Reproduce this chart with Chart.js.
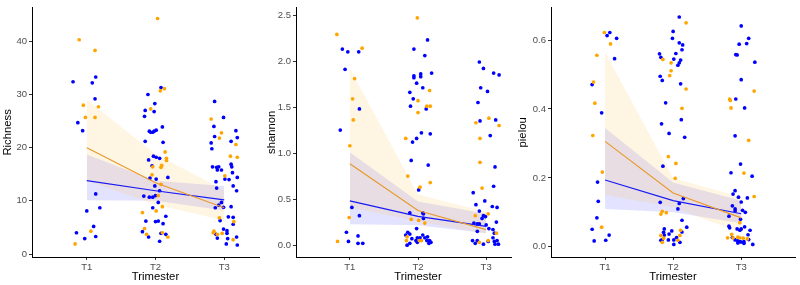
<!DOCTYPE html>
<html>
<head>
<meta charset="utf-8">
<script src="https://cdn.jsdelivr.net/npm/chart.js@4/dist/chart.umd.min.js"></script>
<style>
  body { margin: 0; background: #fff; width: 800px; height: 285px; position: relative; overflow: hidden; }
  .panel { position: absolute; top: 0; height: 285px; background: #fff; }
</style>
</head>
<body>
<!-- panels overlap: each later panel covers the right edge of the previous one -->
<div class="panel" style="left:0px;width:283px"><canvas id="richness"></canvas></div>
<div class="panel" style="left:260px;width:284px"><canvas id="shannon"></canvas></div>
<div class="panel" style="left:512px;width:288px"><canvas id="pielou"></canvas></div>
<script>
// x categories (jittered points are read as numeric positions around 1, 2, 3)
const trimesters = [1, 2, 3];
const tickLabels = ['T1', 'T2', 'T3'];

// --- Richness ---
const richnessOrange = [
  [0.89,40.3],[1.12,38.3],[0.95,28.0],[1.17,27.7],[0.98,25.7],[1.12,25.7],[1.06,4.3],[0.83,1.9],
  [2.03,44.3],[2.07,30.7],[2.13,31.1],[1.93,27.3],[2.14,19.2],[2.16,18.0],[2.16,17.6],[2.09,16.7],
  [2.08,16.3],[1.96,16.4],[1.95,14.9],[2.08,13.1],[2.04,11.0],[2.10,8.9],[2.01,8.1],[1.81,7.8],
  [1.84,4.8],[1.87,3.7],[2.10,4.0],[2.18,3.2],
  [2.81,25.4],[2.96,22.8],[2.93,21.8],[3.17,20.6],[3.09,18.4],[3.19,18.2],[3.01,14.7],[2.93,6.8],
  [3.14,6.1],[2.85,4.3],[2.84,4.0],[2.90,3.7],[2.97,3.9],[3.13,2.7]
];
const richnessBlue = [
  [0.80,32.4],[1.08,32.2],[1.13,33.3],[1.12,29.2],[0.87,24.7],[0.94,23.2],[1.13,11.3],[1.00,8.1],
  [1.19,8.7],[1.10,5.2],[0.85,4.0],[0.97,2.9],[1.13,3.3],
  [1.89,30.0],[2.08,31.3],[1.99,28.3],[1.85,27.0],[1.98,26.8],[1.84,25.9],[2.10,23.9],[1.91,23.1],
  [1.93,22.9],[1.96,22.9],[1.98,23.1],[2.01,23.3],[1.85,21.2],[2.11,21.0],[1.90,17.7],[1.97,18.4],
  [2.01,18.2],[2.06,18.0],[1.95,16.6],[1.92,14.3],[2.01,14.1],[2.18,14.4],[1.99,12.8],[2.06,11.9],
  [1.83,10.9],[1.91,10.7],[1.96,10.7],[2.00,11.0],[2.04,9.7],[1.96,8.7],[2.15,7.1],[2.00,6.1],
  [2.04,6.2],[1.86,6.2],[2.11,5.7],[1.81,4.2],[1.90,3.2],[2.08,3.9],[2.15,3.7],[2.06,2.4],
  [2.86,28.7],[2.99,25.7],[2.85,24.0],[3.17,23.2],[2.86,22.1],[3.19,21.9],[2.81,20.9],[3.10,21.2],
  [2.82,19.8],[3.10,16.9],[3.11,16.4],[2.83,16.4],[2.89,16.3],[2.92,16.4],[2.90,15.8],[2.96,15.8],
  [3.12,15.3],[3.19,14.4],[3.01,14.1],[3.07,14.0],[2.88,13.6],[3.13,12.8],[2.89,12.4],[3.18,11.9],
  [2.96,9.7],[2.92,9.2],[2.87,8.7],[2.99,8.8],[3.10,8.9],[3.06,7.0],[3.13,6.9],[2.94,6.3],
  [3.13,5.6],[2.99,4.7],[3.04,4.4],[3.04,3.9],[2.88,3.7],[2.90,3.0],[3.05,2.9],[3.18,3.2],
  [3.03,1.9],[3.19,1.7]
];
const richnessOrangeFit = [20.0, 13.4, 8.7];
const richnessOrangeLow = [13.8, 9.3, 6.3];
const richnessOrangeHigh = [29.0, 18.8, 12.0];
const richnessBlueFit = [13.8, 11.9, 10.2];
const richnessBlueLow = [10.1, 10.0, 8.2];
const richnessBlueHigh = [18.7, 13.8, 12.8];
const richnessTicks = [0, 10, 20, 30, 40];

// --- shannon ---
const shannonOrange = [
  [0.81,2.29],[1.18,2.14],[1.07,1.81],[1.04,1.59],[1.05,1.36],[1.00,1.08],[0.99,0.30],[0.82,0.04],
  [1.99,2.47],[2.17,1.68],[2.13,1.51],[2.18,1.51],[2.00,1.57],[2.00,1.44],[1.82,1.16],[1.85,0.75],
  [2.03,0.63],[2.18,0.68],[1.90,0.28],[2.01,0.27],[2.10,0.24],[1.84,0.09],[1.83,0.05],[2.02,0.05],
  [2.05,0.05],
  [3.04,1.38],[2.85,1.33],[3.19,1.30],[2.91,1.16],[2.91,0.90],[2.94,0.62],[3.03,0.34],[2.84,0.32],
  [3.15,0.13],[2.90,0.03],[3.03,0.05]
];
const shannonBlue = [
  [0.89,2.13],[0.97,2.10],[1.13,2.10],[0.93,1.91],[1.14,1.48],[0.86,1.25],[1.03,0.41],[1.14,0.32],
  [0.95,0.14],[1.12,0.10],[0.98,0.04],[1.12,0.02],[1.19,0.02],
  [2.14,2.23],[1.94,2.13],[2.10,2.06],[2.20,1.87],[1.94,1.84],[1.94,1.82],[2.04,1.86],[2.04,1.83],
  [1.98,1.76],[2.07,1.71],[1.88,1.66],[1.93,1.59],[1.89,1.51],[2.12,1.48],[2.05,1.22],[2.18,1.21],
  [1.98,1.16],[1.92,1.12],[1.90,0.92],[2.15,0.87],[2.01,0.60],[1.88,0.35],[2.07,0.35],[2.08,0.34],
  [2.08,0.29],[1.98,0.18],[1.85,0.14],[1.82,0.11],[1.88,0.12],[1.91,0.07],[1.99,0.08],[2.03,0.08],
  [2.07,0.11],[2.10,0.08],[2.14,0.09],[2.17,0.05],[2.13,0.05],[2.19,0.03],[2.16,0.02],[1.99,0.03],
  [1.88,0.02],[1.84,0.00],[1.97,0.05],
  [2.90,1.99],[2.96,1.92],[3.11,1.87],[3.19,1.85],[2.92,1.71],[3.02,1.67],[2.88,1.55],[2.91,1.35],
  [3.14,1.36],[3.06,1.19],[3.13,0.85],[3.11,0.64],[2.81,0.57],[2.98,0.48],[2.85,0.44],[3.09,0.42],
  [3.16,0.41],[2.90,0.37],[2.96,0.32],[2.94,0.29],[2.99,0.31],[3.15,0.25],[2.82,0.24],[2.87,0.23],
  [2.90,0.23],[3.00,0.22],[3.04,0.18],[2.87,0.15],[3.10,0.17],[3.12,0.13],[2.80,0.05],[2.84,0.02],
  [2.87,0.05],[2.96,0.01],[3.10,0.08],[3.12,0.04],[3.16,0.05],[3.18,0.01],[3.13,0.01],[3.03,0.04]
];
const shannonOrangeFit = [0.885, 0.376, 0.169];
const shannonOrangeLow = [0.41, 0.26, 0.12];
const shannonOrangeHigh = [1.92, 0.55, 0.36];
const shannonBlueFit = [0.48, 0.312, 0.204];
const shannonBlueLow = [0.226, 0.215, 0.13];
const shannonBlueHigh = [1.01, 0.473, 0.34];
const shannonTicks = [0, 0.5, 1.0, 1.5, 2.0, 2.5];

// --- pielou ---
const pielouOrange = [
  [0.99,0.622],[1.08,0.589],[0.88,0.556],[0.83,0.478],[0.85,0.417],[0.82,0.323],[0.96,0.217],[0.95,0.057],
  [2.19,0.650],[1.85,0.544],[1.97,0.534],[1.97,0.511],[1.95,0.497],[2.19,0.458],[2.13,0.402],[1.93,0.262],
  [2.04,0.242],[2.03,0.199],[1.84,0.103],[1.90,0.099],[1.82,0.095],[1.82,0.033],[1.86,0.025],[2.11,0.048],
  [2.10,0.033],[2.07,0.019],[1.84,0.013],
  [3.19,0.452],[2.83,0.429],[2.84,0.425],[2.85,0.403],[3.11,0.309],[3.04,0.214],[3.19,0.146],[2.98,0.070],
  [2.86,0.036],[2.80,0.026],[2.88,0.026],[2.95,0.028],[2.98,0.026],[3.03,0.025],[3.09,0.023]
];
const pielouBlue = [
  [1.03,0.613],[1.07,0.622],[1.17,0.605],[1.14,0.546],[0.81,0.471],[0.95,0.389],[0.89,0.188],[0.90,0.132],
  [0.88,0.084],[0.81,0.051],[0.84,0.017],[1.01,0.019],[1.06,0.034],
  [2.09,0.667],[2.00,0.625],[1.99,0.605],[2.09,0.592],[2.14,0.586],[2.13,0.572],[1.80,0.560],[1.82,0.550],
  [2.04,0.561],[2.01,0.545],[2.11,0.542],[2.09,0.534],[2.07,0.527],[1.81,0.495],[1.84,0.483],[2.11,0.473],
  [1.89,0.418],[2.12,0.369],[1.83,0.357],[1.94,0.329],[2.17,0.318],[1.85,0.234],[1.81,0.129],[2.09,0.126],
  [2.07,0.110],[2.15,0.140],[2.13,0.077],[2.20,0.057],[1.87,0.052],[1.98,0.046],[2.13,0.043],[1.86,0.042],
  [1.94,0.037],[1.87,0.034],[2.05,0.027],[1.82,0.019],[1.93,0.020],[2.01,0.020],[2.01,0.007],[2.10,0.013],
  [1.84,0.021],
  [3.00,0.641],[3.11,0.605],[2.97,0.588],[3.08,0.590],[2.92,0.558],[2.94,0.557],[3.20,0.536],[3.00,0.485],
  [2.92,0.429],[3.05,0.403],[2.91,0.322],[2.99,0.240],[2.85,0.215],[3.16,0.205],[2.91,0.163],[2.88,0.153],
  [2.96,0.144],[3.09,0.142],[3.00,0.130],[2.87,0.119],[2.91,0.110],[2.91,0.104],[3.02,0.106],[3.06,0.100],
  [2.82,0.089],[2.99,0.080],[2.82,0.060],[2.83,0.055],[3.05,0.058],[2.94,0.052],[2.98,0.048],[3.00,0.052],
  [3.13,0.048],[3.10,0.035],[2.87,0.027],[3.11,0.021],[2.91,0.020],[2.95,0.017],[2.98,0.015],[3.00,0.014],
  [3.04,0.015],[3.04,0.010],[3.17,0.007],[2.95,0.011]
];
const pielouOrangeFit = [0.306, 0.156, 0.084];
const pielouOrangeLow = [0.15, 0.115, 0.04];
const pielouOrangeHigh = [0.565, 0.20, 0.144];
const pielouBlueFit = [0.194, 0.134, 0.096];
const pielouBlueLow = [0.11, 0.10, 0.068];
const pielouBlueHigh = [0.345, 0.187, 0.134];
const pielouTicks = [0, 0.2, 0.4, 0.6];

const ORANGE = '#FFA500';
const BLUE = '#0000FF';
const FONT = 'Liberation Sans, Arial, sans-serif';

function line(ys) {
  return trimesters.map((x, i) => ({ x: x, y: ys[i] }));
}

function buildDatasets(p) {
  return [
    // ribbons (upper filled down to lower)
    { type: 'line', data: line(p.oHigh), fill: '+1', backgroundColor: 'rgba(255,165,0,0.11)', borderWidth: 0, pointRadius: 0, order: 3 },
    { type: 'line', data: line(p.oLow), fill: false, borderWidth: 0, pointRadius: 0, order: 3 },
    { type: 'line', data: line(p.bHigh), fill: '+1', backgroundColor: 'rgba(0,0,255,0.11)', borderWidth: 0, pointRadius: 0, order: 3 },
    { type: 'line', data: line(p.bLow), fill: false, borderWidth: 0, pointRadius: 0, order: 3 },
    // jittered points
    { type: 'scatter', data: p.orange.map(d => ({ x: d[0], y: d[1] })), backgroundColor: ORANGE, borderWidth: 0, pointRadius: 1.85, order: 2 },
    { type: 'scatter', data: p.blue.map(d => ({ x: d[0], y: d[1] })), backgroundColor: BLUE, borderWidth: 0, pointRadius: 1.85, order: 2 },
    // fitted lines
    { type: 'line', data: line(p.oFit), borderColor: '#E89A2C', borderWidth: 1.2, pointRadius: 0, fill: false, order: 1 },
    { type: 'line', data: line(p.bFit), borderColor: '#1A1AF5', borderWidth: 1.2, pointRadius: 0, fill: false, order: 1 }
  ];
}

function makeChart(id, p) {
  new Chart(document.getElementById(id), {
    type: 'scatter',
    data: { datasets: buildDatasets(p) },
    options: {
      animation: false,
      responsive: true,
      maintainAspectRatio: false,
      layout: { padding: { top: 5, right: p.padRight, left: 0, bottom: 0 } },
      plugins: { legend: { display: false }, tooltip: { enabled: false } },
      scales: {
        x: {
          type: 'linear', min: p.xMin, max: p.xMax,
          afterBuildTicks: s => { s.ticks = trimesters.map(v => ({ value: v })); },
          afterFit: s => { s.height = 28; },
          ticks: { callback: v => tickLabels[v - 1], color: '#4D4D4D', font: { family: FONT, size: 9.5 }, padding: 2, maxRotation: 0 },
          grid: { drawOnChartArea: false, drawTicks: true, tickLength: 3, color: '#333' },
          border: { color: '#000', width: 1 },
          title: { display: true, text: 'Trimester', color: '#000', font: { family: FONT, size: 11.3 }, padding: { top: 0, bottom: 1.5 } }
        },
        y: {
          type: 'linear', min: p.yMin, max: p.yMax,
          afterBuildTicks: s => { s.ticks = p.ticks.map(v => ({ value: v })); },
          afterFit: s => { s.width = p.yWidth; },
          ticks: { callback: v => p.fmt(v), color: '#4D4D4D', font: { family: FONT, size: 9.5 }, padding: 2 },
          grid: { drawOnChartArea: false, drawTicks: true, tickLength: 3, color: '#333' },
          border: { color: '#000', width: 1 },
          title: { display: true, text: p.title, color: '#000', font: { family: FONT, size: 11.3 }, padding: { top: p.titlePad, bottom: 0 } }
        }
      }
    }
  });
}

makeChart('richness', {
  title: 'Richness', orange: richnessOrange, blue: richnessBlue,
  oFit: richnessOrangeFit, oLow: richnessOrangeLow, oHigh: richnessOrangeHigh,
  bFit: richnessBlueFit, bLow: richnessBlueLow, bHigh: richnessBlueHigh,
  ticks: richnessTicks, fmt: v => String(v),
  xMin: 0.203, xMax: 3.797, yMin: -0.56, yMax: 46.33, yWidth: 32, padRight: 3, titlePad: 1.4
});
makeChart('shannon', {
  title: 'shannon', orange: shannonOrange, blue: shannonBlue,
  oFit: shannonOrangeFit, oLow: shannonOrangeLow, oHigh: shannonOrangeHigh,
  bFit: shannonBlueFit, bLow: shannonBlueLow, bHigh: shannonBlueHigh,
  ticks: shannonTicks, fmt: v => v.toFixed(1),
  xMin: 0.21, xMax: 3.79, yMin: -0.129, yMax: 2.58, yWidth: 36, padRight: 3.4, titlePad: 5.4
});
makeChart('pielou', {
  title: 'pielou', orange: pielouOrange, blue: pielouBlue,
  oFit: pielouOrangeFit, oLow: pielouOrangeLow, oHigh: pielouOrangeHigh,
  bFit: pielouBlueFit, bLow: pielouBlueLow, bHigh: pielouBlueHigh,
  ticks: pielouTicks, fmt: v => v.toFixed(1),
  xMin: 0.206, xMax: 3.79, yMin: -0.0296, yMax: 0.694, yWidth: 39, padRight: 5, titlePad: 4.4
});
</script>
</body>
</html>
